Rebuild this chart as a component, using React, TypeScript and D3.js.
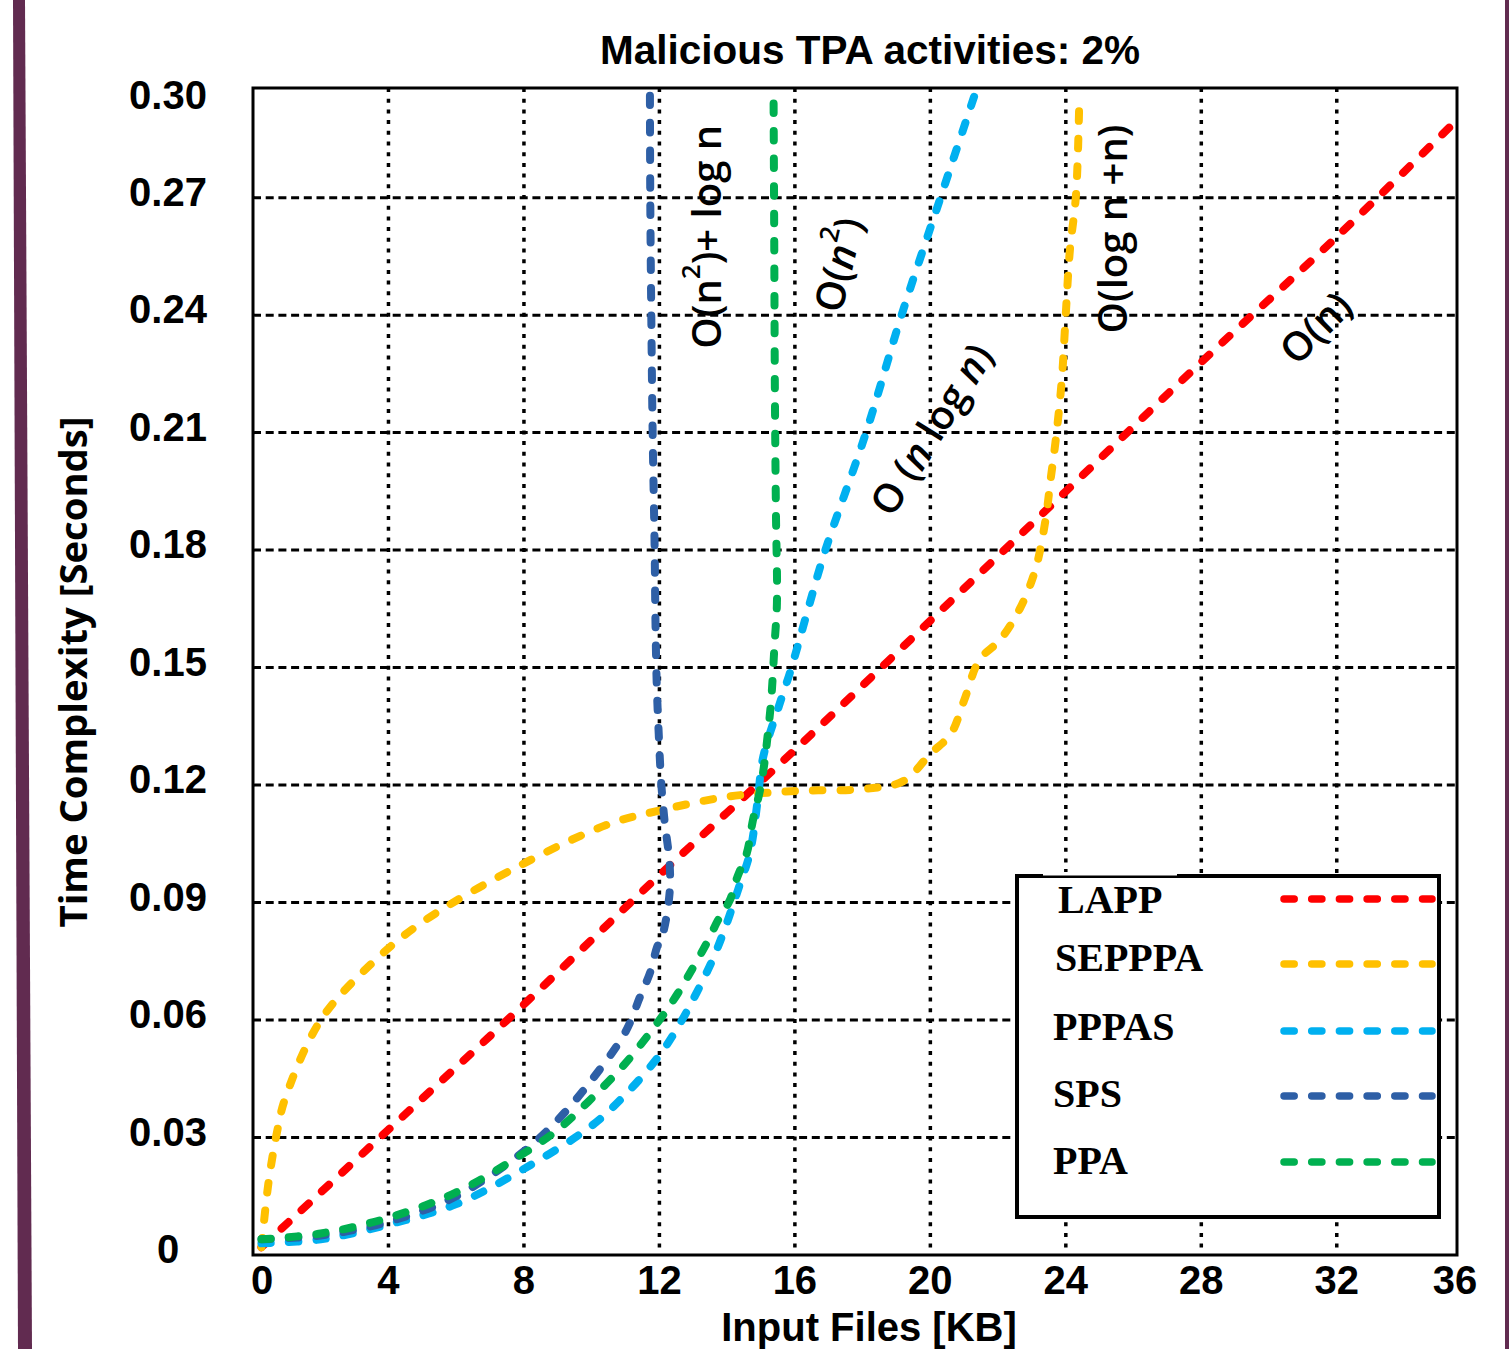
import * as d3 from 'd3';

// axis ticks
const xTicks = [0, 4, 8, 12, 16, 20, 24, 28, 32, 36];
const yTicks = [0, 0.03, 0.06, 0.09, 0.12, 0.15, 0.18, 0.21, 0.24, 0.27, 0.3];
const yTickLabels = ['0', '0.03', '0.06', '0.09', '0.12', '0.15', '0.18', '0.21', '0.24', '0.27', '0.30'];

const seriesNames = ['LAPP', 'SEPPPA', 'PPPAS', 'SPS', 'PPA'];
const seriesColors = ['#ff0000', '#ffc000', '#00b0f0', '#2e5fa6', '#00b050'];

// LAPP - O(n)
const lappX = [0.25, 4, 8, 12, 16, 20, 24, 28, 32, 35.45];
const lappY = [0.002, 0.032, 0.064, 0.097, 0.129, 0.162, 0.195, 0.228, 0.26, 0.289];

// SEPPPA - O(log n + n)
const sepppaX = [0.25, 0.45, 0.7, 0.95, 2, 3.45, 5, 8, 10.5, 12, 14, 16, 18, 19.2, 20, 20.6, 21, 21.45, 22.05, 22.64, 23.1, 23.4, 23.55, 23.7, 23.88, 24.0, 24.12, 24.3, 24.4];
const sepppaY = [0.002, 0.018, 0.031, 0.04, 0.06, 0.074, 0.085, 0.1, 0.11, 0.1135, 0.117, 0.1185, 0.119, 0.121, 0.128, 0.133, 0.1417, 0.152, 0.157, 0.165, 0.175, 0.1877, 0.198, 0.208, 0.2234, 0.2405, 0.2566, 0.2706, 0.296];

// PPPAS - O(n log n)
const pppasX = [0.25, 2, 4, 6, 8, 10, 11, 12, 12.6, 13.1, 13.6, 14.0, 14.35, 14.67, 14.9, 15.06, 15.56, 15.85, 16.1, 16.44, 16.9, 18.1, 19.15, 20.3, 21.3];
const pppasY = [0.003, 0.004, 0.0078, 0.013, 0.022, 0.033, 0.041, 0.051, 0.059, 0.067, 0.076, 0.085, 0.094, 0.1026, 0.116, 0.127, 0.141, 0.1486, 0.156, 0.1665, 0.18, 0.21, 0.24, 0.27, 0.296];

// SPS - O(n^2) + log n
const spsX = [0.25, 2, 4, 6, 8, 9, 10, 11, 11.43, 11.72, 11.93, 12.1, 12.3, 12.3, 12.15, 12.05, 11.98, 11.92, 11.88, 11.86, 11.8, 11.76, 11.73, 11.72];
const spsY = [0.004, 0.005, 0.0085, 0.015, 0.0265, 0.0345, 0.0447, 0.057, 0.066, 0.072, 0.0786, 0.082, 0.0924, 0.1, 0.111, 0.121, 0.133, 0.146, 0.164, 0.18, 0.21, 0.24, 0.27, 0.296];

// PPA - O(n^2)
const ppaX = [0.25, 2, 4, 6, 8, 9, 10, 11, 12, 12.55, 13.0, 13.4, 13.73, 14.08, 14.3, 14.58, 14.76, 14.97, 15.1, 15.2, 15.3, 15.4, 15.47, 15.44, 15.41, 15.39, 15.37];
const ppaY = [0.004, 0.0055, 0.0095, 0.016, 0.026, 0.032, 0.04, 0.049, 0.06, 0.0669, 0.0735, 0.0797, 0.0855, 0.0906, 0.0965, 0.1026, 0.111, 0.1187, 0.1256, 0.133, 0.1417, 0.156, 0.1665, 0.19, 0.22, 0.26, 0.297];

const seriesX = [lappX, sepppaX, pppasX, spsX, ppaX];
const seriesY = [lappY, sepppaY, pppasY, spsY, ppaY];

const W = 1509;
const H = 1349;
const left = 253;
const top = 88;
const right = 1457;
const bottom = 1255;

const x = d3.scaleLinear().domain([0, 35.55]).range([left, right]);
const y = d3.scaleLinear().domain([0, 0.298]).range([bottom, top]);

const line = d3
  .line<[number, number]>()
  .x(d => x(d[0]))
  .y(d => y(d[1]))
  .curve(d3.curveCatmullRom.alpha(0.5));

const sans = '"Liberation Sans", Arial, sans-serif';
const note = '"Open Sans", "Noto Sans", sans-serif';
const serif = '"Liberation Serif", "Times New Roman", serif';

const dash = { strokeWidth: 8, strokeDasharray: '9.5 18', strokeLinecap: 'round' as const, fill: 'none' };

export default function App() {
  const legendY = [899, 964, 1031, 1096, 1162];
  const legendTextY = [913, 971, 1040, 1107, 1174];

  return (
    <svg width={W} height={H} style={{ position: 'absolute', left: 0, top: 0, background: '#fff' }}>
      <defs>
        <radialGradient id="shade" cx="0.5" cy="0" r="0.5">
          <stop offset="0%" stopColor="#dde0e3" />
          <stop offset="100%" stopColor="#ffffff" stopOpacity={0} />
        </radialGradient>
        <clipPath id="plot">
          <rect x={left} y={top} width={right - left} height={bottom - top} />
        </clipPath>
      </defs>
      <rect width={W} height={H} fill="#fff" />
      <ellipse cx={800} cy={-20} rx={720} ry={60} fill="url(#shade)" />
      <polygon points="13,0 25,0 32,1349 18,1349" fill="#612b50" />
      <rect x={1505} y={0} width={4} height={H} fill="#612b50" />

      {/* title */}
      <text x={870} y={64} textAnchor="middle" fontFamily={sans} fontWeight="bold" fontSize={40.5}>
        Malicious TPA activities: 2%
      </text>

      {/* grid */}
      {yTicks.filter(v => v > 0 && v < 0.29).map(v => (
        <line key={'h' + v} x1={left} x2={right} y1={y(v)} y2={y(v)} stroke="#000" strokeWidth={3} strokeDasharray="8 4.7" />
      ))}
      {xTicks.filter(v => v > 0 && v < 35).map(v => (
        <line key={'v' + v} x1={x(v)} x2={x(v)} y1={top} y2={bottom} stroke="#000" strokeWidth={3.5} strokeDasharray="4 6.7" />
      ))}

      {/* series */}
      <g clipPath="url(#plot)">
        {seriesNames.map((name, i) => (
          <path
            key={name}
            d={line(seriesX[i].map((v, j) => [v, seriesY[i][j]] as [number, number])) || ''}
            stroke={seriesColors[i]}
            {...dash}
          />
        ))}
      </g>

      {/* frame */}
      <rect x={left} y={top} width={right - left} height={bottom - top} fill="none" stroke="#000" strokeWidth={3} />

      {/* complexity notes */}
      <g fontFamily={note} fontSize={40} fontWeight={600} fill="#000">
        <text transform={`translate(${x(13.35)},${y(0.26)}) rotate(-90)`} textAnchor="middle" dominantBaseline="central">
          O(n<tspan dy={-15} fontSize={26}>2</tspan><tspan dy={15}>)+ log n</tspan>
        </text>
        <text transform={`translate(${x(17.25)},${y(0.253)}) rotate(-77)`} textAnchor="middle" dominantBaseline="central">
          O(<tspan fontStyle="italic">n</tspan><tspan dy={-15} fontSize={26}>2</tspan><tspan dy={15}>)</tspan>
        </text>
        <text transform={`translate(${x(20.0)},${y(0.211)}) rotate(-58)`} textAnchor="middle" dominantBaseline="central">
          O (<tspan fontStyle="italic">n</tspan> log <tspan fontStyle="italic">n</tspan>)
        </text>
        <text transform={`translate(${x(25.35)},${y(0.262)}) rotate(-90)`} textAnchor="middle" dominantBaseline="central">
          O(log n +n)
        </text>
        <text transform={`translate(${x(31.35)},${y(0.237)}) rotate(-45)`} textAnchor="middle" dominantBaseline="central">
          O(n)
        </text>
      </g>

      {/* legend */}
      <rect x={1017} y={876} width={422} height={341} fill="#fff" stroke="#000" strokeWidth={4} />
      <rect x={1043} y={872} width={134} height={3.5} fill="#fff" />
      {seriesNames.map((name, i) => (
        <g key={'lg' + name}>
          <text x={i === 0 ? 1058 : i === 1 ? 1055 : 1053} y={legendTextY[i]} fontFamily={serif} fontWeight="bold" fontSize={40}>
            {name}
          </text>
          <line x1={1284} x2={1432} y1={legendY[i]} y2={legendY[i]} stroke={seriesColors[i]} strokeWidth={7.5} strokeDasharray="10.2 17.5" strokeLinecap="round" />
        </g>
      ))}

      {/* tick labels */}
      <g fontFamily={sans} fontWeight="bold" fontSize={40} textAnchor="middle">
        {xTicks.map(v => (
          <text key={'xt' + v} x={Math.min(Math.max(x(v), left + 9), right - 2)} y={1294}>
            {v}
          </text>
        ))}
        {yTicks.map((v, i) => (
          <text key={'yt' + v} x={168} y={Math.max(y(v) - 6, top + 7)} dominantBaseline="central">
            {yTickLabels[i]}
          </text>
        ))}
      </g>

      {/* axis titles */}
      <text x={869} y={1341} textAnchor="middle" fontFamily={sans} fontWeight="bold" fontSize={40}>
        Input Files [KB]
      </text>
      <text
        transform="translate(72,672) rotate(-90)"
        textAnchor="middle"
        dominantBaseline="central"
        fontFamily={note}
        fontWeight="bold"
        fontSize={38}
        textLength={511}
        lengthAdjust="spacingAndGlyphs"
      >
        Time Complexity [Seconds]
      </text>
    </svg>
  );
}
